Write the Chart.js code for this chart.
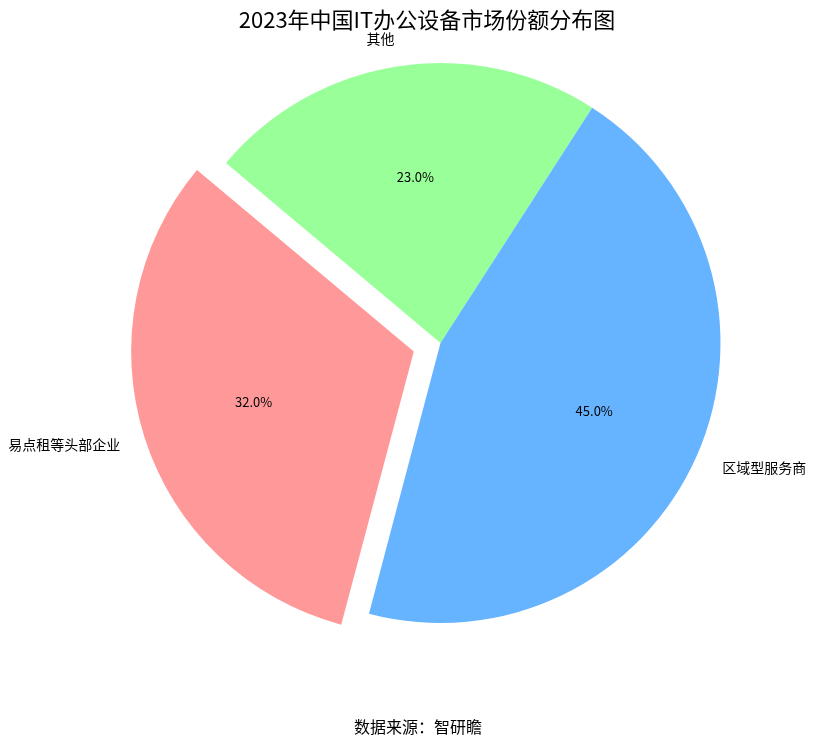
<!DOCTYPE html>
<html>
<head>
<meta charset="utf-8">
<script src="https://cdn.jsdelivr.net/npm/chart.js@4.4.0/dist/chart.umd.min.js"></script>
<style>
html,body{margin:0;padding:0;background:#fff;}
#wrap{width:816px;height:744px;position:relative;}
</style>
</head>
<body>
<div id="wrap"><canvas id="c" width="816" height="744"></canvas></div>
<script>
const categories = ['其他', '区域型服务商', '易点租等头部企业'];
const shares = [23.0, 45.0, 32.0];
const sliceColors = ['#99ff99', '#66b3ff', '#ff9999'];
const explodeFrac = [0, 0, 0.1];
const titleText = '2023年中国IT办公设备市场份额分布图';
const sourceText = '数据来源：智研瞻';

const FONT = "'Noto Sans CJK SC', 'DejaVu Sans', sans-serif";
const R = 280;

const labelPlugin = {
  id: 'pieLabels',
  afterDatasetsDraw(chart) {
    const ctx = chart.ctx;
    const meta = chart.getDatasetMeta(0);
    const total = shares.reduce((a, b) => a + b, 0);
    ctx.save();
    ctx.fillStyle = '#000';
    meta.data.forEach((arc, i) => {
      const p = arc.getProps(['x', 'y', 'startAngle', 'endAngle', 'outerRadius'], true);
      const mid = (p.startAngle + p.endAngle) / 2;
      const r = p.outerRadius;
      const off = explodeFrac[i] * r;
      const dx = Math.cos(mid), dy = Math.sin(mid);
      const lx = p.x + (off + 1.1 * r) * dx;
      const ly = p.y + (off + 1.1 * r) * dy;
      ctx.font = '14px ' + FONT;
      ctx.textBaseline = 'middle';
      ctx.textAlign = dx < 0 ? 'right' : 'left';
      ctx.fillText(categories[i], lx, ly);
      const px = p.x + (off + 0.6 * r) * dx;
      const py = p.y + (off + 0.6 * r) * dy;
      ctx.textAlign = 'center';
      ctx.font = '13px ' + FONT;
      ctx.fillText((shares[i] / total * 100).toFixed(1) + '%', px, py);
    });
    ctx.textAlign = 'center';
    ctx.textBaseline = 'middle';
    ctx.font = '22px ' + FONT;
    ctx.fillText(titleText, 427, 20);
    ctx.font = '16px ' + FONT;
    ctx.fillText(sourceText, 418, 727);
    ctx.restore();
  }
};

new Chart(document.getElementById('c'), {
  type: 'pie',
  data: {
    labels: categories,
    datasets: [{
      data: shares,
      backgroundColor: sliceColors,
      hoverBackgroundColor: sliceColors,
      borderWidth: 0,
      // Chart.js translates arcs by offset/4
      offset: explodeFrac.map(f => f * R * 4),
      hoverOffset: 0
    }]
  },
  options: {
    responsive: false,
    animation: false,
    devicePixelRatio: 1,
    rotation: -50,
    radius: R,
    layout: { padding: { left: 65, right: 0, top: 0, bottom: 58 } },
    plugins: {
      legend: { display: false },
      tooltip: { enabled: false },
      title: { display: false }
    },
    events: []
  },
  plugins: [labelPlugin]
});
</script>
</body>
</html>
